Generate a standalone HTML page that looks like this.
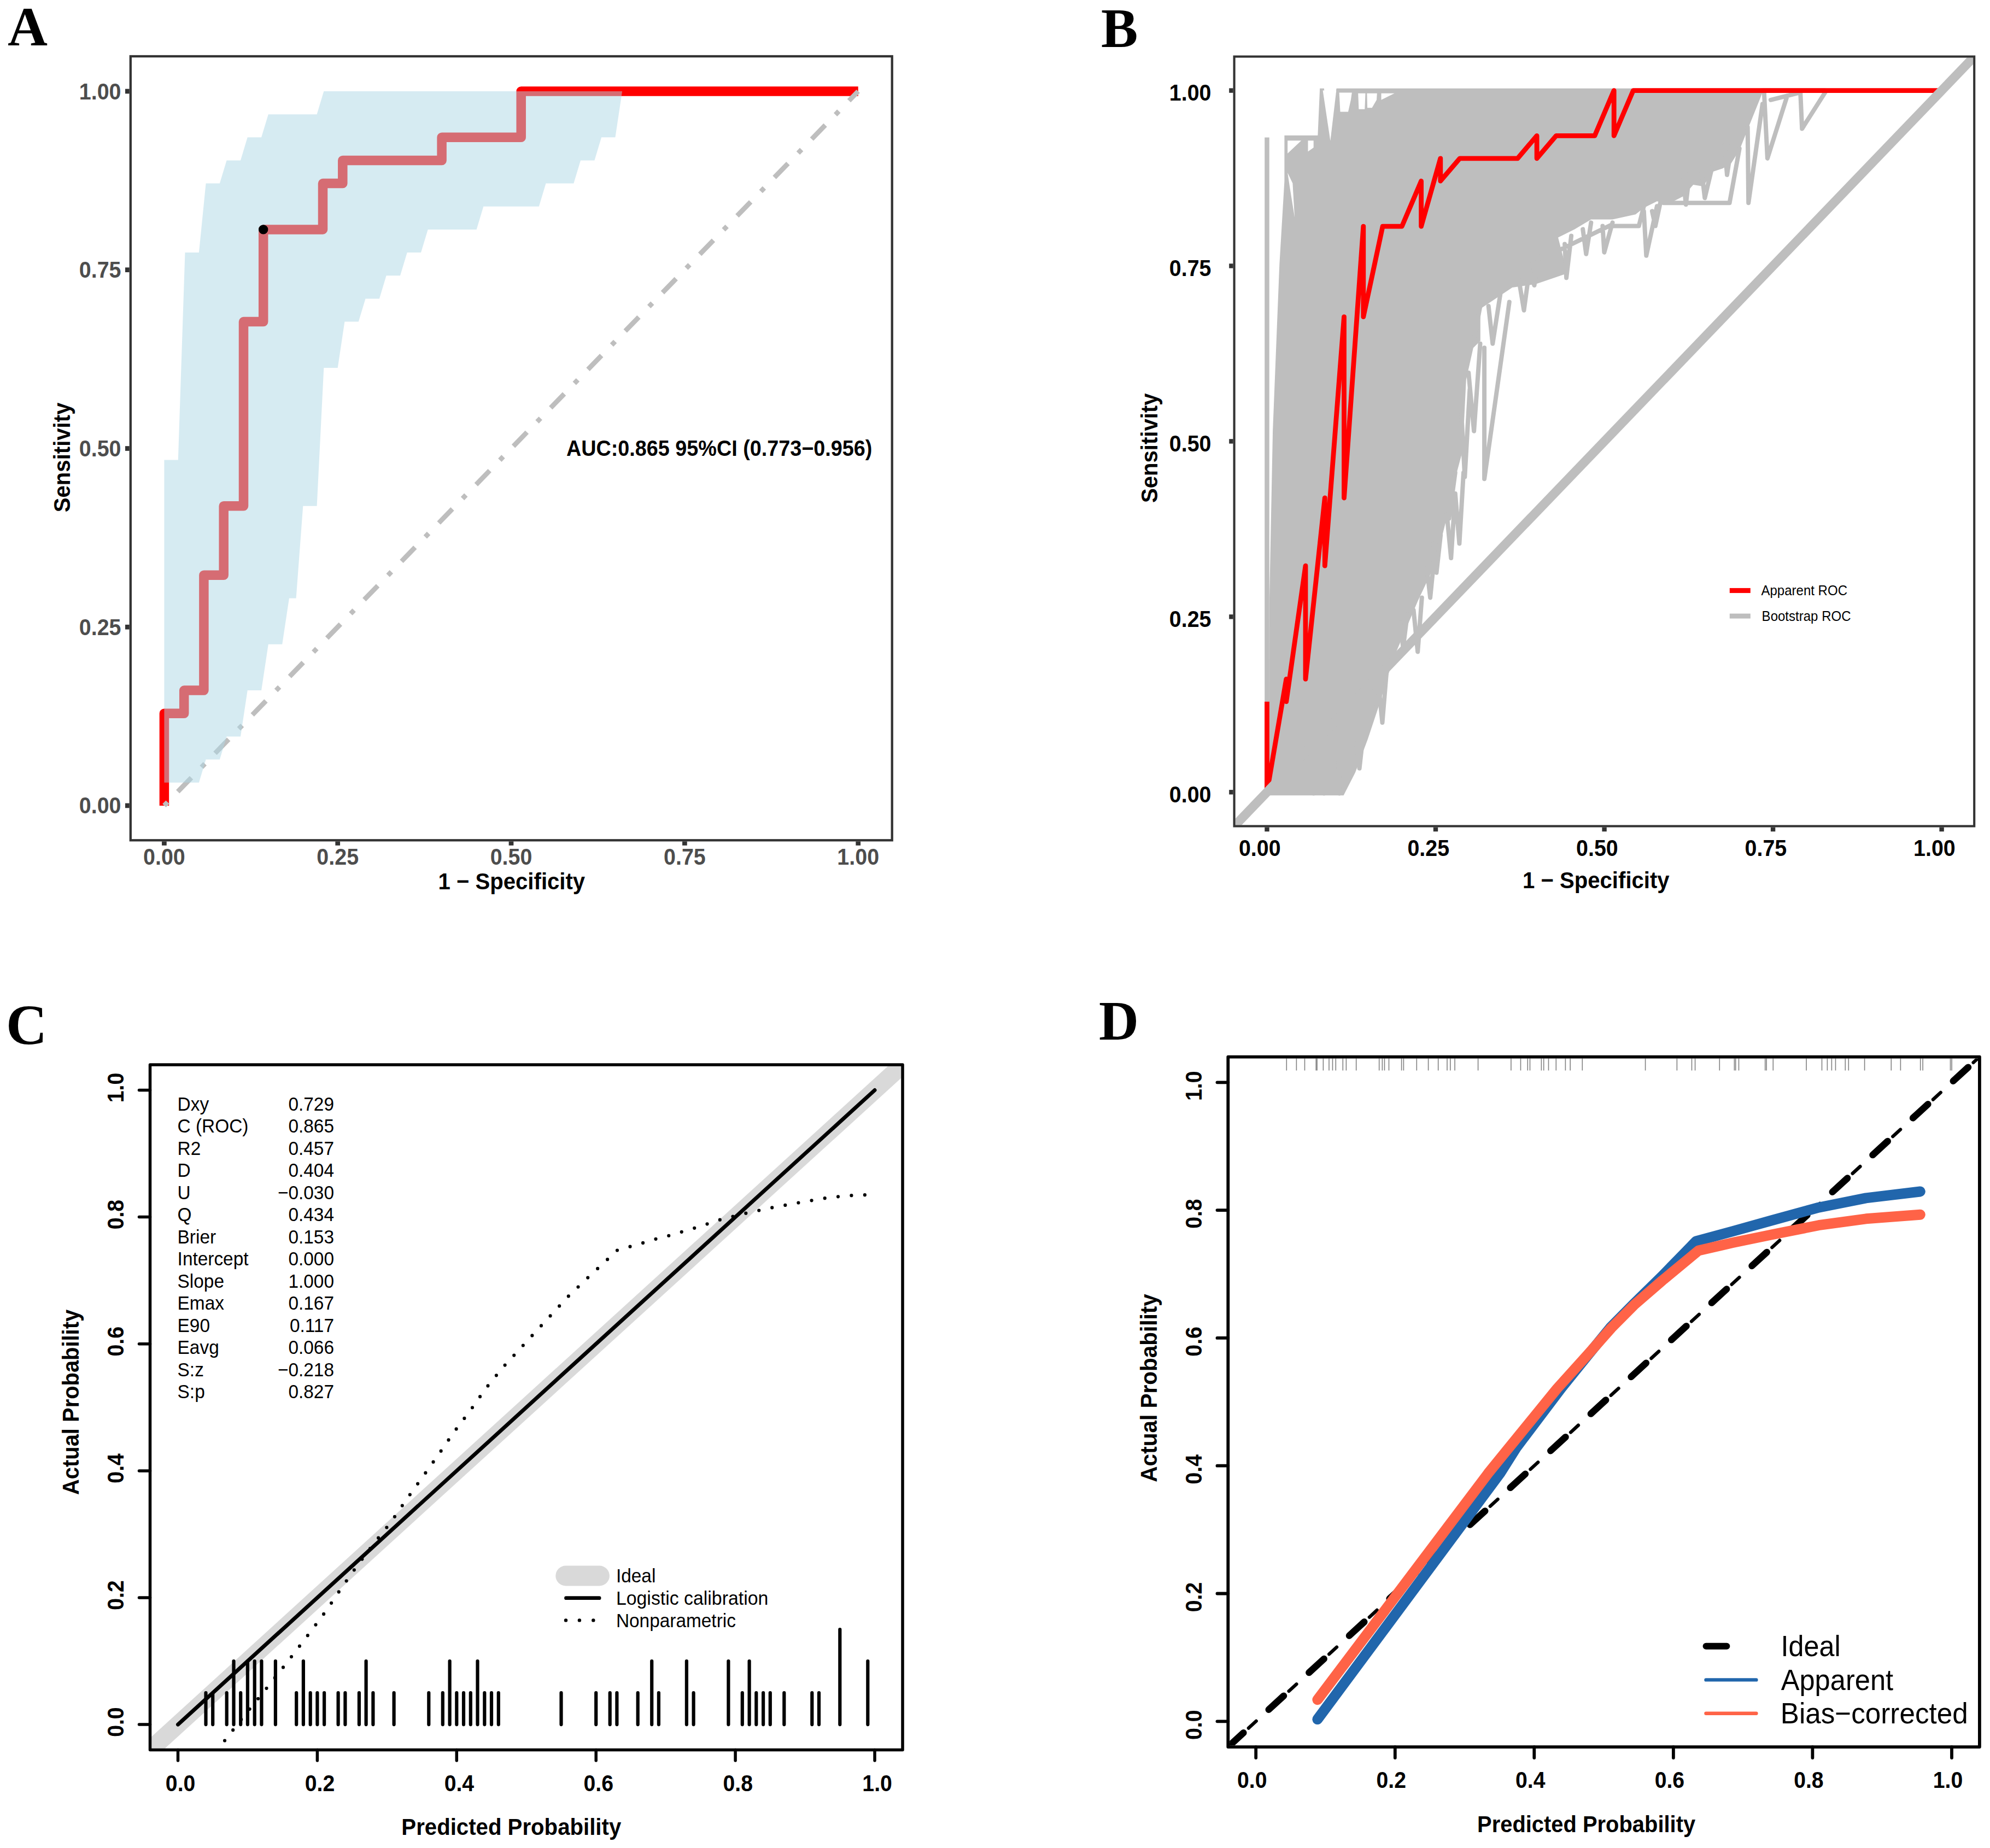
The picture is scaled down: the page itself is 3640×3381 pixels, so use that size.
<!DOCTYPE html>
<html><head><meta charset="utf-8"><style>html,body{margin:0;padding:0;background:#fff;}svg{display:block;}</style></head><body>
<svg width="3640" height="3381" viewBox="0 0 3640 3381">
<rect width="3640" height="3381" fill="#fff"/>
<text transform="translate(14 83)" font-family='"Liberation Serif", serif' font-size="101" font-weight="bold" fill="#000" text-anchor="start">A</text>
<text transform="translate(2014 86)" font-family='"Liberation Serif", serif' font-size="101" font-weight="bold" fill="#000" text-anchor="start">B</text>
<text transform="translate(11 1910)" font-family='"Liberation Serif", serif' font-size="104" font-weight="bold" fill="#000" text-anchor="start">C</text>
<text transform="translate(2010 1902)" font-family='"Liberation Serif", serif' font-size="101" font-weight="bold" fill="#000" text-anchor="start">D</text>
<defs><clipPath id="clipA"><rect x="241" y="105" width="1388.6" height="1430"/></clipPath><clipPath id="clipB"><rect x="2259.7" y="105.5" width="1349.3" height="1404"/></clipPath><clipPath id="clipC"><rect x="277.2" y="1950.7" width="1371.1" height="1248.1"/></clipPath><clipPath id="clipD"><rect x="2249.2" y="1936.5" width="1368.8" height="1256.7"/></clipPath></defs>
<g clip-path="url(#clipA)">
<polyline points="300.4,1473.9 300.4,1305.3 336.7,1305.3 336.7,1263.1 372.9,1263.1 372.9,1052.3 409.2,1052.3 409.2,925.8 445.5,925.8 445.5,588.6 481.7,588.6 481.7,419.9 590.5,419.9 590.5,335.6 626.8,335.6 626.8,293.5 808.1,293.5 808.1,251.3 953.2,251.3 953.2,167 1569.7,167" fill="none" stroke="#FF0000" stroke-width="17.5" stroke-linejoin="round" stroke-linecap="butt"/>
<line x1="300.4" y1="1473.9" x2="1569.7" y2="167" stroke="#BEBEBE" stroke-width="8.9" stroke-dasharray="8.9 26.7 35.6 26.7"/>
<polygon points="300.4,841.5 325.8,841.5 338.5,462.1 363.9,462.1 376.6,335.6 401.9,335.6 414.6,293.5 440,293.5 452.7,251.3 478.1,251.3 490.8,209.2 579.6,209.2 592.3,167 1569.7,167 1569.7,167 1138.1,167 1125.4,251.3 1100.1,251.3 1087.4,293.5 1062,293.5 1049.3,335.6 998.5,335.6 985.8,377.8 884.3,377.8 871.6,419.9 782.7,419.9 770,462.1 744.7,462.1 732,504.3 706.6,504.3 693.9,546.4 668.5,546.4 655.8,588.6 630.4,588.6 617.7,672.9 592.3,672.9 579.6,925.8 554.3,925.8 541.6,1094.5 528.9,1094.5 516.2,1178.8 490.8,1178.8 478.1,1263.1 452.7,1263.1 440,1347.4 414.6,1347.4 401.9,1389.6 376.6,1389.6 363.9,1431.7 300.4,1431.7" fill="#ADD8E6" fill-opacity="0.5"/>
<circle cx="481.7" cy="419.9" r="8.7" fill="#000"/>
</g>
<rect x="238.8" y="103" width="1392.9" height="1434.3" fill="none" stroke="#333333" stroke-width="4.3"/>
<line x1="300.4" y1="1539.4" x2="300.4" y2="1546.8" stroke="#333333" stroke-width="8.7"/>
<line x1="236.7" y1="1473.9" x2="229" y2="1473.9" stroke="#333333" stroke-width="8.7"/>
<text transform="translate(300.4 1582) scale(0.9300 1)" font-family='"Liberation Sans", sans-serif' font-size="42.4" font-weight="bold" fill="#4D4D4D" text-anchor="middle">0.00</text>
<text transform="translate(221.5 1488.4) scale(0.9300 1)" font-family='"Liberation Sans", sans-serif' font-size="42.4" font-weight="bold" fill="#4D4D4D" text-anchor="end">0.00</text>
<line x1="617.7" y1="1539.4" x2="617.7" y2="1546.8" stroke="#333333" stroke-width="8.7"/>
<line x1="236.7" y1="1147.2" x2="229" y2="1147.2" stroke="#333333" stroke-width="8.7"/>
<text transform="translate(617.7 1582) scale(0.9300 1)" font-family='"Liberation Sans", sans-serif' font-size="42.4" font-weight="bold" fill="#4D4D4D" text-anchor="middle">0.25</text>
<text transform="translate(221.5 1161.7) scale(0.9300 1)" font-family='"Liberation Sans", sans-serif' font-size="42.4" font-weight="bold" fill="#4D4D4D" text-anchor="end">0.25</text>
<line x1="935" y1="1539.4" x2="935" y2="1546.8" stroke="#333333" stroke-width="8.7"/>
<line x1="236.7" y1="820.5" x2="229" y2="820.5" stroke="#333333" stroke-width="8.7"/>
<text transform="translate(935 1582) scale(0.9300 1)" font-family='"Liberation Sans", sans-serif' font-size="42.4" font-weight="bold" fill="#4D4D4D" text-anchor="middle">0.50</text>
<text transform="translate(221.5 835) scale(0.9300 1)" font-family='"Liberation Sans", sans-serif' font-size="42.4" font-weight="bold" fill="#4D4D4D" text-anchor="end">0.50</text>
<line x1="1252.4" y1="1539.4" x2="1252.4" y2="1546.8" stroke="#333333" stroke-width="8.7"/>
<line x1="236.7" y1="493.7" x2="229" y2="493.7" stroke="#333333" stroke-width="8.7"/>
<text transform="translate(1252.4 1582) scale(0.9300 1)" font-family='"Liberation Sans", sans-serif' font-size="42.4" font-weight="bold" fill="#4D4D4D" text-anchor="middle">0.75</text>
<text transform="translate(221.5 508.2) scale(0.9300 1)" font-family='"Liberation Sans", sans-serif' font-size="42.4" font-weight="bold" fill="#4D4D4D" text-anchor="end">0.75</text>
<line x1="1569.7" y1="1539.4" x2="1569.7" y2="1546.8" stroke="#333333" stroke-width="8.7"/>
<line x1="236.7" y1="167" x2="229" y2="167" stroke="#333333" stroke-width="8.7"/>
<text transform="translate(1569.7 1582) scale(0.9300 1)" font-family='"Liberation Sans", sans-serif' font-size="42.4" font-weight="bold" fill="#4D4D4D" text-anchor="middle">1.00</text>
<text transform="translate(221.5 181.5) scale(0.9300 1)" font-family='"Liberation Sans", sans-serif' font-size="42.4" font-weight="bold" fill="#4D4D4D" text-anchor="end">1.00</text>
<text transform="translate(935.8 1627.4) scale(0.9400 1)" font-family='"Liberation Sans", sans-serif' font-size="42.7" font-weight="bold" fill="#000" text-anchor="middle">1 &#8722; Specificity</text>
<text transform="translate(128.2 836.9) rotate(-90) scale(0.9400 1)" font-family='"Liberation Sans", sans-serif' font-size="42.7" font-weight="bold" fill="#000" text-anchor="middle">Sensitivity</text>
<text transform="translate(1036 834) scale(0.9490 1)" font-family='"Liberation Sans", sans-serif' font-size="39.8" font-weight="bold" fill="#000" text-anchor="start">AUC:0.865 95%CI (0.773&#8722;0.956)</text>
<g clip-path="url(#clipB)">
<polygon points="2349.4,247.8 2410.4,247.8 2414.2,161.7 2421.8,161.7 2429.4,228.7 2444.7,161.7 3240.8,161.7 3240.8,165.5 3223.9,169.2 3199.7,229.5 3181.7,274.7 3166.6,298.8 3151.5,307.9 3133.4,313.9 3115.3,341.1 3097.2,338 3079.1,359.1 3061.1,368.2 3043,371.2 3030.9,368.2 3006.8,380.2 2991.7,392.3 2949.5,401.4 2910.3,401.4 2880.2,419.4 2850,434.5 2866.9,500 2808.4,520.1 2766.2,526 2707.8,565 2707.8,623.4 2694.8,636.4 2681.8,694.8 2675.3,824.7 2662.3,873.4 2652.6,922.1 2636.4,987 2623.4,1035.7 2593.2,1100 2547.5,1207.7 2524.6,1283.9 2501.8,1352.4 2478.9,1413.4 2457.6,1455.3 2320.5,1455.3 2322,1093.4 2328.1,788.7 2340.3,483.9 2349.4,331.6" fill="#BEBEBE"/>
<path d="M2814.1 468.7 L2806.5 522 L2795.1 483.9M2798.9 483.9 L2787.5 567.7 L2776.1 499.2M2745.6 529.6 L2730.3 628.7 L2722.7 560.1M2707.5 560.1 L2696.1 621.1M2760.8 552.5 L2715.1 876.3 L2715.1 636.3M2707.5 628.7 L2696.1 788.7 L2686.2 682M2688.4 712.5 L2679.3 872.5 L2673.2 758.2M2661.8 864.8 L2650.4 948.6M2677 864.8 L2669.4 994.4 L2661.8 902.9M2661.8 902.9 L2654.2 1021 L2646.5 941M2635.1 979.1 L2627.5 1047.7 L2622.2 994.4M2623.7 1017.2 L2616.1 1093.4 L2610 1040.1M2600.8 1093.4 L2593.2 1192.4 L2585.6 1116.3M2574.2 1123.9 L2566.5 1184.8 L2561.2 1139.1M2536.1 1230.5 L2528.5 1322 L2520.8 1245.8M2517 1245.8 L2509.4 1299.1M2494.2 1337.2 L2486.6 1405.8 L2480.5 1360M2402.8 1398.1 L2402.8 1451.5M2421.8 1390.5 L2421.8 1451.5M2448.5 1390.5 L2450 1451.5M3293.2 169.2 L3296.2 235.5 L3338.4 169.2M3269.1 175.2 L3232.9 289.8 L3226.9 170.7M3223.9 190.3 L3198.2 371.2 L3196.7 232.5M3043 371.2 L3163.6 371.2 L3181.7 271.7M3169.6 250.6 L3159 319.9 L3154.5 265.7M3133.4 298.8 L3118.3 362.2 L3112.3 310.9M3091.2 310.9 L3083.7 374.2 L3079.1 326M3036.9 371.2 L3027.9 413.4 L3021.9 386.3M3030.9 377.2 L3011.3 467.7 L3006.8 386.3M2952.5 413.4 L2997.7 413.4 L3006.8 377.2M2949.5 407.4 L2934.4 461.7 L2931.4 413.4M2910.3 407.4 L2901.3 464.7 L2895.2 419.4M2874.1 431.5 L2865.1 508.4 L2862.1 446.6M2850 458.6 L2949.5 410.4M3238.9 182.8 L3293.2 169.2M3223.9 165.6 L3338.4 165.6" fill="none" stroke="#BEBEBE" stroke-width="8" stroke-linejoin="round" stroke-linecap="round"/>
<polygon points="2419.6,165.4 2444.3,165.4 2433.4,257.8" fill="#FFFFFF"/>
<polygon points="2449.6,169.5 2472.8,169.5 2470.9,182.8 2466,204.6 2451.5,204.6" fill="#FFFFFF"/>
<polygon points="2484.2,170.7 2497.5,170.7 2496.3,199.8 2485.4,199.8" fill="#FFFFFF"/>
<polygon points="2500.4,170.7 2518.8,170.7 2518,182.8 2509.6,197.3 2501.1,197.3" fill="#FFFFFF"/>
<polygon points="2526.5,170.7 2550.7,170.7 2526.5,182.8" fill="#FFFFFF"/>
<polygon points="2355.2,257.3 2380.2,257.3 2355.2,280.8" fill="#FFFFFF"/>
<polygon points="2392.5,257.3 2402.7,257.3 2402.7,269.9 2392.5,277.2" fill="#FFFFFF"/>
<polygon points="2355.2,315.9 2364.4,335.2 2368.1,398.1 2359.6,344.9" fill="#FFFFFF"/>
<line x1="2317.5" y1="251.5" x2="2317.5" y2="1455" stroke="#BEBEBE" stroke-width="8.5"/>
<polyline points="2317.5,1283.7 2317.5,1449.3 2352.8,1242.3 2352.8,1283.7 2388,1035.2 2388,1242.3 2423.3,911 2423.3,1035.2 2458.5,579.7 2458.5,911 2493.8,414.1 2493.8,579.7 2529.1,414.1 2564.3,414.1 2599.6,331.2 2599.6,414.1 2634.8,289.8 2634.8,331.2 2670.1,289.8 2775.9,289.8 2811.1,248.4 2811.1,289.8 2846.4,248.4 2916.9,248.4 2952.2,165.6 2952.2,248.4 2987.4,165.6 3551.6,165.6" fill="none" stroke="#FF0000" stroke-width="8.8" stroke-linejoin="round" stroke-linecap="butt"/>
<line x1="2243.5" y1="1526.3" x2="3625.6" y2="88.6" stroke="#BEBEBE" stroke-width="16.6"/>
</g>
<rect x="2257.6" y="103.5" width="1353.6" height="1408" fill="none" stroke="#333333" stroke-width="4.1"/>
<line x1="2317.5" y1="1513.5" x2="2317.5" y2="1521.3" stroke="#333333" stroke-width="8.4"/>
<line x1="2255.6" y1="1449.3" x2="2248.2" y2="1449.3" stroke="#333333" stroke-width="8.4"/>
<text transform="translate(2304.3 1566) scale(0.9300 1)" font-family='"Liberation Sans", sans-serif' font-size="42.4" font-weight="bold" fill="#000" text-anchor="middle">0.00</text>
<text transform="translate(2215.5 1468.1) scale(0.9300 1)" font-family='"Liberation Sans", sans-serif' font-size="42.4" font-weight="bold" fill="#000" text-anchor="end">0.00</text>
<line x1="2626" y1="1513.5" x2="2626" y2="1521.3" stroke="#333333" stroke-width="8.4"/>
<line x1="2255.6" y1="1128.4" x2="2248.2" y2="1128.4" stroke="#333333" stroke-width="8.4"/>
<text transform="translate(2612.8 1566) scale(0.9300 1)" font-family='"Liberation Sans", sans-serif' font-size="42.4" font-weight="bold" fill="#000" text-anchor="middle">0.25</text>
<text transform="translate(2215.5 1147.2) scale(0.9300 1)" font-family='"Liberation Sans", sans-serif' font-size="42.4" font-weight="bold" fill="#000" text-anchor="end">0.25</text>
<line x1="2934.6" y1="1513.5" x2="2934.6" y2="1521.3" stroke="#333333" stroke-width="8.4"/>
<line x1="2255.6" y1="807.4" x2="2248.2" y2="807.4" stroke="#333333" stroke-width="8.4"/>
<text transform="translate(2921.4 1566) scale(0.9300 1)" font-family='"Liberation Sans", sans-serif' font-size="42.4" font-weight="bold" fill="#000" text-anchor="middle">0.50</text>
<text transform="translate(2215.5 826.2) scale(0.9300 1)" font-family='"Liberation Sans", sans-serif' font-size="42.4" font-weight="bold" fill="#000" text-anchor="end">0.50</text>
<line x1="3243.1" y1="1513.5" x2="3243.1" y2="1521.3" stroke="#333333" stroke-width="8.4"/>
<line x1="2255.6" y1="486.5" x2="2248.2" y2="486.5" stroke="#333333" stroke-width="8.4"/>
<text transform="translate(3229.9 1566) scale(0.9300 1)" font-family='"Liberation Sans", sans-serif' font-size="42.4" font-weight="bold" fill="#000" text-anchor="middle">0.75</text>
<text transform="translate(2215.5 505.3) scale(0.9300 1)" font-family='"Liberation Sans", sans-serif' font-size="42.4" font-weight="bold" fill="#000" text-anchor="end">0.75</text>
<line x1="3551.6" y1="1513.5" x2="3551.6" y2="1521.3" stroke="#333333" stroke-width="8.4"/>
<line x1="2255.6" y1="165.6" x2="2248.2" y2="165.6" stroke="#333333" stroke-width="8.4"/>
<text transform="translate(3538.4 1566) scale(0.9300 1)" font-family='"Liberation Sans", sans-serif' font-size="42.4" font-weight="bold" fill="#000" text-anchor="middle">1.00</text>
<text transform="translate(2215.5 184.4) scale(0.9300 1)" font-family='"Liberation Sans", sans-serif' font-size="42.4" font-weight="bold" fill="#000" text-anchor="end">1.00</text>
<text transform="translate(2919.3 1624.5) scale(0.9400 1)" font-family='"Liberation Sans", sans-serif' font-size="42.7" font-weight="bold" fill="#000" text-anchor="middle">1 &#8722; Specificity</text>
<text transform="translate(2116.8 819.7) rotate(-90) scale(0.9400 1)" font-family='"Liberation Sans", sans-serif' font-size="42.7" font-weight="bold" fill="#000" text-anchor="middle">Sensitivity</text>
<rect x="3163.8" y="1075.9" width="38" height="9" fill="#FF0000"/>
<rect x="3163.8" y="1122.6" width="38" height="9" fill="#BEBEBE"/>
<text transform="translate(3221.4 1089) scale(0.9580 1)" font-family='"Liberation Sans", sans-serif' font-size="25.1" font-weight="normal" fill="#000" text-anchor="start">Apparent ROC</text>
<text transform="translate(3222.6 1135.7) scale(0.9580 1)" font-family='"Liberation Sans", sans-serif' font-size="25.1" font-weight="normal" fill="#000" text-anchor="start">Bootstrap ROC</text>
<g clip-path="url(#clipC)">
<line x1="198.1" y1="3271.2" x2="1727.5" y2="1878.4" stroke="#D9D9D9" stroke-width="32.4"/>
<line x1="325.5" y1="3155.1" x2="1600" y2="1994.5" stroke="#000" stroke-width="7" stroke-linecap="round"/>
<polyline points="376.5,3224.7 412.5,3182.8 442.8,3143.8 474.6,3104.8 506.1,3065.7 536.3,3026.9 567.7,2985.7 597.7,2945.4 625.5,2903.8 655,2862.2 685.2,2822.4 715.5,2784.2 744,2742.6 772.6,2702.8 802.2,2661.1 830.7,2619.6 860.2,2580.6 888.7,2540 919.8,2501.7 936.8,2483.3 970.3,2446.8 1004.2,2410 1037.9,2373.3 1074,2338.7 1110.8,2304.5 1128.6,2287.6 1176.9,2273.7 1199,2266.9 1226.3,2260 1275.6,2245.2 1321.6,2230.1 1369.2,2218.5 1418.5,2208.1 1467.1,2199.3 1518,2190.6 1568.1,2186.3 1594.9,2186" fill="none" stroke="#000" stroke-width="6.2" stroke-linecap="round" stroke-dasharray="0 24.5" stroke-dashoffset="-4"/>
<path d="M376.5 3155.1V3097.1M389.2 3155.1V3097.1M414.7 3155.1V3097.1M440.2 3155.1V3097.1M542.2 3155.1V3097.1M567.7 3155.1V3097.1M580.4 3155.1V3097.1M593.1 3155.1V3097.1M618.6 3155.1V3097.1M631.4 3155.1V3097.1M656.9 3155.1V3097.1M682.4 3155.1V3097.1M720.6 3155.1V3097.1M784.3 3155.1V3097.1M809.8 3155.1V3097.1M835.3 3155.1V3097.1M848 3155.1V3097.1M860.8 3155.1V3097.1M886.3 3155.1V3097.1M899 3155.1V3097.1M911.8 3155.1V3097.1M1026.5 3155.1V3097.1M1090.2 3155.1V3097.1M1115.7 3155.1V3097.1M1128.4 3155.1V3097.1M1166.7 3155.1V3097.1M1204.9 3155.1V3097.1M1268.6 3155.1V3097.1M1357.8 3155.1V3097.1M1383.3 3155.1V3097.1M1396.1 3155.1V3097.1M1408.8 3155.1V3097.1M1434.3 3155.1V3097.1M1485.3 3155.1V3097.1M1498 3155.1V3097.1M427.5 3155.1V3039M452.9 3155.1V3039M465.7 3155.1V3039M478.4 3155.1V3039M503.9 3155.1V3039M554.9 3155.1V3039M669.6 3155.1V3039M822.6 3155.1V3039M873.5 3155.1V3039M1192.2 3155.1V3039M1255.9 3155.1V3039M1332.4 3155.1V3039M1370.6 3155.1V3039M1587.3 3155.1V3039M1536.3 3155.1V2981" stroke="#000" stroke-width="6.2" stroke-linecap="round"/>
</g>
<rect x="274.5" y="1948" width="1376.5" height="1253.5" fill="none" stroke="#000" stroke-width="5.5" stroke-linejoin="round"/>
<line x1="325.5" y1="3201.5" x2="325.5" y2="3221" stroke="#000" stroke-width="5.5" stroke-linecap="round"/>
<line x1="274.5" y1="3155.1" x2="254.5" y2="3155.1" stroke="#000" stroke-width="5.5" stroke-linecap="round"/>
<text transform="translate(330.1 3276.6) scale(0.9250 1)" font-family='"Liberation Sans", sans-serif' font-size="42.4" font-weight="bold" fill="#000" text-anchor="middle">0.0</text>
<text transform="translate(226.4 3150.6) rotate(-90) scale(0.9250 1)" font-family='"Liberation Sans", sans-serif' font-size="42.4" font-weight="bold" fill="#000" text-anchor="middle">0.0</text>
<line x1="580.4" y1="3201.5" x2="580.4" y2="3221" stroke="#000" stroke-width="5.5" stroke-linecap="round"/>
<line x1="274.5" y1="2923" x2="254.5" y2="2923" stroke="#000" stroke-width="5.5" stroke-linecap="round"/>
<text transform="translate(585 3276.6) scale(0.9250 1)" font-family='"Liberation Sans", sans-serif' font-size="42.4" font-weight="bold" fill="#000" text-anchor="middle">0.2</text>
<text transform="translate(226.4 2918.5) rotate(-90) scale(0.9250 1)" font-family='"Liberation Sans", sans-serif' font-size="42.4" font-weight="bold" fill="#000" text-anchor="middle">0.2</text>
<line x1="835.3" y1="3201.5" x2="835.3" y2="3221" stroke="#000" stroke-width="5.5" stroke-linecap="round"/>
<line x1="274.5" y1="2690.9" x2="254.5" y2="2690.9" stroke="#000" stroke-width="5.5" stroke-linecap="round"/>
<text transform="translate(839.9 3276.6) scale(0.9250 1)" font-family='"Liberation Sans", sans-serif' font-size="42.4" font-weight="bold" fill="#000" text-anchor="middle">0.4</text>
<text transform="translate(226.4 2686.4) rotate(-90) scale(0.9250 1)" font-family='"Liberation Sans", sans-serif' font-size="42.4" font-weight="bold" fill="#000" text-anchor="middle">0.4</text>
<line x1="1090.2" y1="3201.5" x2="1090.2" y2="3221" stroke="#000" stroke-width="5.5" stroke-linecap="round"/>
<line x1="274.5" y1="2458.7" x2="254.5" y2="2458.7" stroke="#000" stroke-width="5.5" stroke-linecap="round"/>
<text transform="translate(1094.8 3276.6) scale(0.9250 1)" font-family='"Liberation Sans", sans-serif' font-size="42.4" font-weight="bold" fill="#000" text-anchor="middle">0.6</text>
<text transform="translate(226.4 2454.2) rotate(-90) scale(0.9250 1)" font-family='"Liberation Sans", sans-serif' font-size="42.4" font-weight="bold" fill="#000" text-anchor="middle">0.6</text>
<line x1="1345.1" y1="3201.5" x2="1345.1" y2="3221" stroke="#000" stroke-width="5.5" stroke-linecap="round"/>
<line x1="274.5" y1="2226.6" x2="254.5" y2="2226.6" stroke="#000" stroke-width="5.5" stroke-linecap="round"/>
<text transform="translate(1349.7 3276.6) scale(0.9250 1)" font-family='"Liberation Sans", sans-serif' font-size="42.4" font-weight="bold" fill="#000" text-anchor="middle">0.8</text>
<text transform="translate(226.4 2222.1) rotate(-90) scale(0.9250 1)" font-family='"Liberation Sans", sans-serif' font-size="42.4" font-weight="bold" fill="#000" text-anchor="middle">0.8</text>
<line x1="1600" y1="3201.5" x2="1600" y2="3221" stroke="#000" stroke-width="5.5" stroke-linecap="round"/>
<line x1="274.5" y1="1994.5" x2="254.5" y2="1994.5" stroke="#000" stroke-width="5.5" stroke-linecap="round"/>
<text transform="translate(1604.6 3276.6) scale(0.9250 1)" font-family='"Liberation Sans", sans-serif' font-size="42.4" font-weight="bold" fill="#000" text-anchor="middle">1.0</text>
<text transform="translate(226.4 1990) rotate(-90) scale(0.9250 1)" font-family='"Liberation Sans", sans-serif' font-size="42.4" font-weight="bold" fill="#000" text-anchor="middle">1.0</text>
<text transform="translate(935.3 3357.2) scale(0.9570 1)" font-family='"Liberation Sans", sans-serif' font-size="42" font-weight="bold" fill="#000" text-anchor="middle">Predicted Probability</text>
<text transform="translate(144.1 2565.4) rotate(-90) scale(0.9500 1)" font-family='"Liberation Sans", sans-serif' font-size="42" font-weight="bold" fill="#000" text-anchor="middle">Actual Probability</text>
<text transform="translate(324.6 2031.5) scale(0.9490 1)" font-family='"Liberation Sans", sans-serif' font-size="35.2" font-weight="normal" fill="#000" text-anchor="start">Dxy</text>
<text transform="translate(611 2031.5) scale(0.9490 1)" font-family='"Liberation Sans", sans-serif' font-size="35.2" font-weight="normal" fill="#000" text-anchor="end">0.729</text>
<text transform="translate(324.6 2072) scale(0.9490 1)" font-family='"Liberation Sans", sans-serif' font-size="35.2" font-weight="normal" fill="#000" text-anchor="start">C (ROC)</text>
<text transform="translate(611 2072) scale(0.9490 1)" font-family='"Liberation Sans", sans-serif' font-size="35.2" font-weight="normal" fill="#000" text-anchor="end">0.865</text>
<text transform="translate(324.6 2112.6) scale(0.9490 1)" font-family='"Liberation Sans", sans-serif' font-size="35.2" font-weight="normal" fill="#000" text-anchor="start">R2</text>
<text transform="translate(611 2112.6) scale(0.9490 1)" font-family='"Liberation Sans", sans-serif' font-size="35.2" font-weight="normal" fill="#000" text-anchor="end">0.457</text>
<text transform="translate(324.6 2153.1) scale(0.9490 1)" font-family='"Liberation Sans", sans-serif' font-size="35.2" font-weight="normal" fill="#000" text-anchor="start">D</text>
<text transform="translate(611 2153.1) scale(0.9490 1)" font-family='"Liberation Sans", sans-serif' font-size="35.2" font-weight="normal" fill="#000" text-anchor="end">0.404</text>
<text transform="translate(324.6 2193.6) scale(0.9490 1)" font-family='"Liberation Sans", sans-serif' font-size="35.2" font-weight="normal" fill="#000" text-anchor="start">U</text>
<text transform="translate(611 2193.6) scale(0.9490 1)" font-family='"Liberation Sans", sans-serif' font-size="35.2" font-weight="normal" fill="#000" text-anchor="end">&#8722;0.030</text>
<text transform="translate(324.6 2234.2) scale(0.9490 1)" font-family='"Liberation Sans", sans-serif' font-size="35.2" font-weight="normal" fill="#000" text-anchor="start">Q</text>
<text transform="translate(611 2234.2) scale(0.9490 1)" font-family='"Liberation Sans", sans-serif' font-size="35.2" font-weight="normal" fill="#000" text-anchor="end">0.434</text>
<text transform="translate(324.6 2274.7) scale(0.9490 1)" font-family='"Liberation Sans", sans-serif' font-size="35.2" font-weight="normal" fill="#000" text-anchor="start">Brier</text>
<text transform="translate(611 2274.7) scale(0.9490 1)" font-family='"Liberation Sans", sans-serif' font-size="35.2" font-weight="normal" fill="#000" text-anchor="end">0.153</text>
<text transform="translate(324.6 2315.2) scale(0.9490 1)" font-family='"Liberation Sans", sans-serif' font-size="35.2" font-weight="normal" fill="#000" text-anchor="start">Intercept</text>
<text transform="translate(611 2315.2) scale(0.9490 1)" font-family='"Liberation Sans", sans-serif' font-size="35.2" font-weight="normal" fill="#000" text-anchor="end">0.000</text>
<text transform="translate(324.6 2355.7) scale(0.9490 1)" font-family='"Liberation Sans", sans-serif' font-size="35.2" font-weight="normal" fill="#000" text-anchor="start">Slope</text>
<text transform="translate(611 2355.7) scale(0.9490 1)" font-family='"Liberation Sans", sans-serif' font-size="35.2" font-weight="normal" fill="#000" text-anchor="end">1.000</text>
<text transform="translate(324.6 2396.3) scale(0.9490 1)" font-family='"Liberation Sans", sans-serif' font-size="35.2" font-weight="normal" fill="#000" text-anchor="start">Emax</text>
<text transform="translate(611 2396.3) scale(0.9490 1)" font-family='"Liberation Sans", sans-serif' font-size="35.2" font-weight="normal" fill="#000" text-anchor="end">0.167</text>
<text transform="translate(324.6 2436.8) scale(0.9490 1)" font-family='"Liberation Sans", sans-serif' font-size="35.2" font-weight="normal" fill="#000" text-anchor="start">E90</text>
<text transform="translate(611 2436.8) scale(0.9490 1)" font-family='"Liberation Sans", sans-serif' font-size="35.2" font-weight="normal" fill="#000" text-anchor="end">0.117</text>
<text transform="translate(324.6 2477.3) scale(0.9490 1)" font-family='"Liberation Sans", sans-serif' font-size="35.2" font-weight="normal" fill="#000" text-anchor="start">Eavg</text>
<text transform="translate(611 2477.3) scale(0.9490 1)" font-family='"Liberation Sans", sans-serif' font-size="35.2" font-weight="normal" fill="#000" text-anchor="end">0.066</text>
<text transform="translate(324.6 2517.9) scale(0.9490 1)" font-family='"Liberation Sans", sans-serif' font-size="35.2" font-weight="normal" fill="#000" text-anchor="start">S:z</text>
<text transform="translate(611 2517.9) scale(0.9490 1)" font-family='"Liberation Sans", sans-serif' font-size="35.2" font-weight="normal" fill="#000" text-anchor="end">&#8722;0.218</text>
<text transform="translate(324.6 2558.4) scale(0.9490 1)" font-family='"Liberation Sans", sans-serif' font-size="35.2" font-weight="normal" fill="#000" text-anchor="start">S:p</text>
<text transform="translate(611 2558.4) scale(0.9490 1)" font-family='"Liberation Sans", sans-serif' font-size="35.2" font-weight="normal" fill="#000" text-anchor="end">0.827</text>
<line x1="1034.8" y1="2883" x2="1096.4" y2="2883" stroke="#D9D9D9" stroke-width="37" stroke-linecap="round"/>
<line x1="1035.5" y1="2923.7" x2="1096.1" y2="2923.7" stroke="#000" stroke-width="6.8" stroke-linecap="round"/>
<circle cx="1035" cy="2964.4" r="3.2" fill="#000"/>
<circle cx="1059.9" cy="2964.4" r="3.2" fill="#000"/>
<circle cx="1085.3" cy="2964.4" r="3.2" fill="#000"/>
<text transform="translate(1126.9 2895.4) scale(0.9490 1)" font-family='"Liberation Sans", sans-serif' font-size="35.2" font-weight="normal" fill="#000" text-anchor="start">Ideal</text>
<text transform="translate(1126.9 2936.1) scale(0.9620 1)" font-family='"Liberation Sans", sans-serif' font-size="35.2" font-weight="normal" fill="#000" text-anchor="start">Logistic calibration</text>
<text transform="translate(1126.9 2976.8) scale(0.9490 1)" font-family='"Liberation Sans", sans-serif' font-size="35.2" font-weight="normal" fill="#000" text-anchor="start">Nonparametric</text>
<g clip-path="url(#clipD)">
<path d="M2353.3 1936V1958.5M2371.4 1936V1958.5M2386.5 1936V1958.5M2407.3 1936V1958.5M2409.1 1936V1958.5M2420.4 1936V1958.5M2431 1936V1958.5M2437.5 1936V1958.5M2443.3 1936V1958.5M2456.3 1936V1958.5M2462.4 1936V1958.5M2480.7 1936V1958.5M2522.7 1936V1958.5M2528.4 1936V1958.5M2532.5 1936V1958.5M2540.5 1936V1958.5M2563.6 1936V1958.5M2567.4 1936V1958.5M2591.3 1936V1958.5M2612.6 1936V1958.5M2630.7 1936V1958.5M2647 1936V1958.5M2652.8 1936V1958.5M2661.1 1936V1958.5M2703.6 1936V1958.5M2763.9 1936V1958.5M2781.5 1936V1958.5M2794.3 1936V1958.5M2798.5 1936V1958.5M2819.4 1936V1958.5M2823.7 1936V1958.5M2832.5 1936V1958.5M2846.3 1936V1958.5M2863.4 1936V1958.5M2872.2 1936V1958.5M2894.3 1936V1958.5M3009.6 1936V1958.5M3067.4 1936V1958.5M3094.5 1936V1958.5M3100.6 1936V1958.5M3145.3 1936V1958.5M3172.4 1936V1958.5M3174.7 1936V1958.5M3180.5 1936V1958.5M3228.7 1936V1958.5M3231.2 1936V1958.5M3243.3 1936V1958.5M3304.1 1936V1958.5M3332.5 1936V1958.5M3342.4 1936V1958.5M3350.4 1936V1958.5M3357.5 1936V1958.5M3375.3 1936V1958.5M3381.3 1936V1958.5M3410.6 1936V1958.5M3459.3 1936V1958.5M3476.4 1936V1958.5M3512.7 1936V1958.5M3517.1 1936V1958.5M3567.5 1936V1958.5M3570.1 1936V1958.5" stroke="#808080" stroke-width="1.6"/>
<line x1="2246.3" y1="3196.1" x2="3620.9" y2="1933.5" stroke="#000" stroke-width="12.4" stroke-linecap="round" stroke-dasharray="37.2 62.8" stroke-dashoffset="-1"/>
<line x1="2246.3" y1="3196.1" x2="3620.9" y2="1933.5" stroke="#000" stroke-width="6.2" stroke-linecap="round" stroke-dasharray="18.9 31.1" stroke-dashoffset="-1"/>
<polyline points="2409.9,3145.5 2743.8,2695.6 2773.8,2648.2 2855.5,2540 2903.5,2480.5 2945.5,2429 2988.5,2385.5 3040.9,2334 3102.3,2271 3169.6,2252.6 3240,2233 3326.6,2209.2 3413.2,2191.9 3512.3,2180" fill="none" stroke="#2166AC" stroke-width="19" stroke-linecap="round" stroke-linejoin="round"/>
<polyline points="2409.9,3109.7 2722,2695.6 2760.4,2648.2 2848.5,2540 2907.5,2474.7 2947.5,2429.4 2990,2386.6 3040.9,2342.5 3089.6,2302.2 3106.8,2288 3169.6,2273.6 3240,2259 3326.6,2241.7 3413.2,2229.8 3512.3,2222.2" fill="none" stroke="#FF6347" stroke-width="19" stroke-linecap="round" stroke-linejoin="round"/>
</g>
<rect x="2246.3" y="1933.6" width="1374.6" height="1262.5" fill="none" stroke="#000" stroke-width="5.8" stroke-linejoin="round"/>
<line x1="2297.2" y1="3196.1" x2="2297.2" y2="3216" stroke="#000" stroke-width="5.8" stroke-linecap="round"/>
<line x1="2246.3" y1="3149.3" x2="2226.5" y2="3149.3" stroke="#000" stroke-width="5.8" stroke-linecap="round"/>
<text transform="translate(2290.2 3271.1) scale(0.9250 1)" font-family='"Liberation Sans", sans-serif' font-size="42.4" font-weight="bold" fill="#000" text-anchor="middle">0.0</text>
<text transform="translate(2198.2 3155.8) rotate(-90) scale(0.9250 1)" font-family='"Liberation Sans", sans-serif' font-size="42.4" font-weight="bold" fill="#000" text-anchor="middle">0.0</text>
<line x1="2551.8" y1="3196.1" x2="2551.8" y2="3216" stroke="#000" stroke-width="5.8" stroke-linecap="round"/>
<line x1="2246.3" y1="2915.5" x2="2226.5" y2="2915.5" stroke="#000" stroke-width="5.8" stroke-linecap="round"/>
<text transform="translate(2544.8 3271.1) scale(0.9250 1)" font-family='"Liberation Sans", sans-serif' font-size="42.4" font-weight="bold" fill="#000" text-anchor="middle">0.2</text>
<text transform="translate(2198.2 2922) rotate(-90) scale(0.9250 1)" font-family='"Liberation Sans", sans-serif' font-size="42.4" font-weight="bold" fill="#000" text-anchor="middle">0.2</text>
<line x1="2806.3" y1="3196.1" x2="2806.3" y2="3216" stroke="#000" stroke-width="5.8" stroke-linecap="round"/>
<line x1="2246.3" y1="2681.7" x2="2226.5" y2="2681.7" stroke="#000" stroke-width="5.8" stroke-linecap="round"/>
<text transform="translate(2799.3 3271.1) scale(0.9250 1)" font-family='"Liberation Sans", sans-serif' font-size="42.4" font-weight="bold" fill="#000" text-anchor="middle">0.4</text>
<text transform="translate(2198.2 2688.2) rotate(-90) scale(0.9250 1)" font-family='"Liberation Sans", sans-serif' font-size="42.4" font-weight="bold" fill="#000" text-anchor="middle">0.4</text>
<line x1="3060.9" y1="3196.1" x2="3060.9" y2="3216" stroke="#000" stroke-width="5.8" stroke-linecap="round"/>
<line x1="2246.3" y1="2447.9" x2="2226.5" y2="2447.9" stroke="#000" stroke-width="5.8" stroke-linecap="round"/>
<text transform="translate(3053.9 3271.1) scale(0.9250 1)" font-family='"Liberation Sans", sans-serif' font-size="42.4" font-weight="bold" fill="#000" text-anchor="middle">0.6</text>
<text transform="translate(2198.2 2454.4) rotate(-90) scale(0.9250 1)" font-family='"Liberation Sans", sans-serif' font-size="42.4" font-weight="bold" fill="#000" text-anchor="middle">0.6</text>
<line x1="3315.4" y1="3196.1" x2="3315.4" y2="3216" stroke="#000" stroke-width="5.8" stroke-linecap="round"/>
<line x1="2246.3" y1="2214.1" x2="2226.5" y2="2214.1" stroke="#000" stroke-width="5.8" stroke-linecap="round"/>
<text transform="translate(3308.4 3271.1) scale(0.9250 1)" font-family='"Liberation Sans", sans-serif' font-size="42.4" font-weight="bold" fill="#000" text-anchor="middle">0.8</text>
<text transform="translate(2198.2 2220.6) rotate(-90) scale(0.9250 1)" font-family='"Liberation Sans", sans-serif' font-size="42.4" font-weight="bold" fill="#000" text-anchor="middle">0.8</text>
<line x1="3570" y1="3196.1" x2="3570" y2="3216" stroke="#000" stroke-width="5.8" stroke-linecap="round"/>
<line x1="2246.3" y1="1980.3" x2="2226.5" y2="1980.3" stroke="#000" stroke-width="5.8" stroke-linecap="round"/>
<text transform="translate(3563 3271.1) scale(0.9250 1)" font-family='"Liberation Sans", sans-serif' font-size="42.4" font-weight="bold" fill="#000" text-anchor="middle">1.0</text>
<text transform="translate(2198.2 1986.8) rotate(-90) scale(0.9250 1)" font-family='"Liberation Sans", sans-serif' font-size="42.4" font-weight="bold" fill="#000" text-anchor="middle">1.0</text>
<text transform="translate(2901.6 3352) scale(0.9500 1)" font-family='"Liberation Sans", sans-serif' font-size="42" font-weight="bold" fill="#000" text-anchor="middle">Predicted Probability</text>
<text transform="translate(2115.9 2539.4) rotate(-90) scale(0.9650 1)" font-family='"Liberation Sans", sans-serif' font-size="42" font-weight="bold" fill="#000" text-anchor="middle">Actual Probability</text>
<line x1="3120.6" y1="3011.8" x2="3158.4" y2="3011.8" stroke="#000" stroke-width="12" stroke-linecap="round"/>
<line x1="3120.5" y1="3073.4" x2="3212.4" y2="3073.4" stroke="#2166AC" stroke-width="6.4" stroke-linecap="round"/>
<line x1="3120.5" y1="3134.8" x2="3212.4" y2="3134.8" stroke="#FF6347" stroke-width="6.4" stroke-linecap="round"/>
<text transform="translate(3257.5 3030.4) scale(0.9500 1)" font-family='"Liberation Sans", sans-serif' font-size="53" font-weight="normal" fill="#000" text-anchor="start">Ideal</text>
<text transform="translate(3257.7 3091.9) scale(0.9550 1)" font-family='"Liberation Sans", sans-serif' font-size="53" font-weight="normal" fill="#000" text-anchor="start">Apparent</text>
<text transform="translate(3256.8 3153) scale(0.9660 1)" font-family='"Liberation Sans", sans-serif' font-size="53" font-weight="normal" fill="#000" text-anchor="start">Bias&#8722;corrected</text>
</svg>
</body></html>
